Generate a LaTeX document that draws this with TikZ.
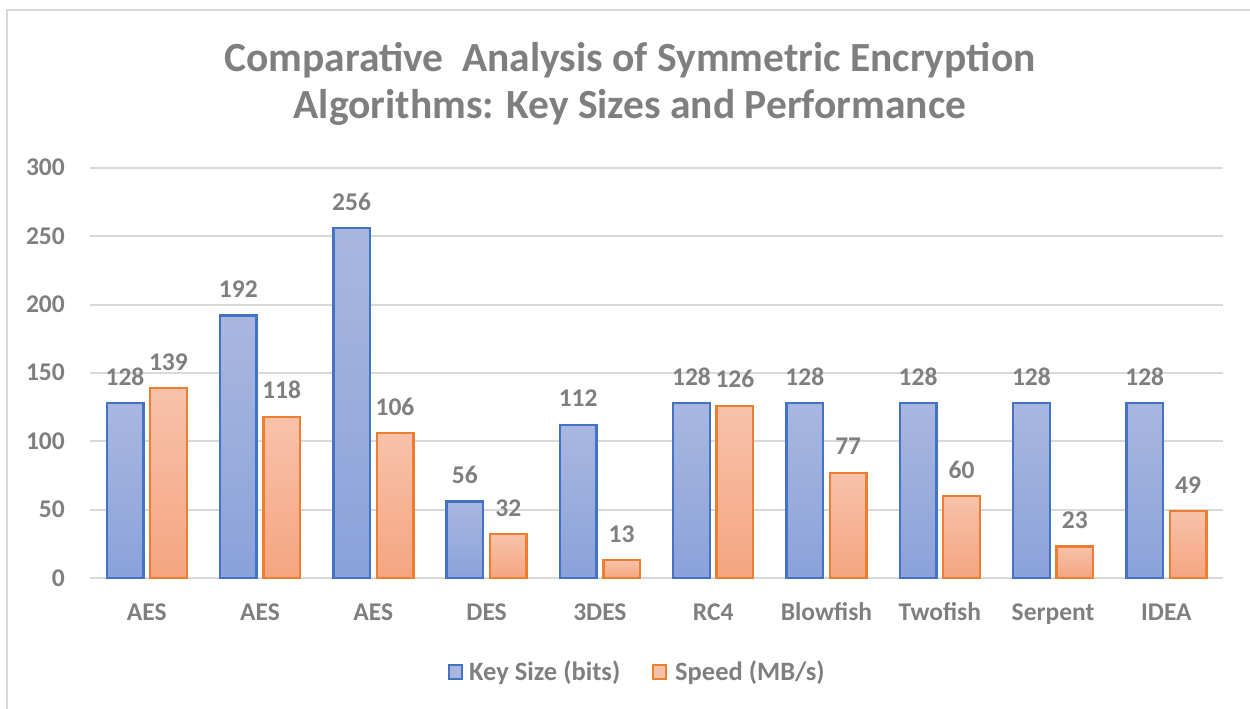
\documentclass[tikz,border=0pt]{standalone}
\usepackage{fontspec}
\setmainfont{Carlito}
\begin{document}
\begin{tikzpicture}[x=1pt,y=-1pt,
  txt/.style={font=\bfseries\fontsize{25.5}{30}\selectfont, text=labgray, inner sep=0pt},
  grid/.style={draw=gridgray, line width=2pt},
  keybar/.style={draw=keyedge, line width=2.4pt, top color=keytop, bottom color=keybot},
  spdbar/.style={draw=spdedge, line width=2.4pt, top color=spdtop, bottom color=spdbot}]
\definecolor{labgray}{HTML}{7F7F7F}
\definecolor{gridgray}{HTML}{D9D9D9}
\definecolor{keyedge}{HTML}{4472C4}
\definecolor{keytop}{HTML}{A9B7E0}
\definecolor{keybot}{HTML}{8AA2DA}
\definecolor{spdedge}{HTML}{ED7D31}
\definecolor{spdtop}{HTML}{F7C2AA}
\definecolor{spdbot}{HTML}{F5A580}
\useasboundingbox (0,0) rectangle (1250,709);
% frame
\coordinate (fb) at (7,712);
\coordinate (ftl) at (7,10);
\coordinate (ftr) at (1252,10);
\draw[gridgray, line width=2.5pt] (fb) -- (ftl) -- (ftr);
% title
\node[txt, font=\bfseries\fontsize{41.5}{48}\selectfont, anchor=base] (t1) at (630,71) {Comparative~ Analysis of Symmetric Encryption};
\node[txt, font=\bfseries\fontsize{41.5}{48}\selectfont, anchor=base] (t2) at (630,118) {Algorithms: Key Sizes and Performance};
% grid and y labels
\foreach \v in {0,50,...,300}{
  \pgfmathsetmacro{\yy}{578-\v*1.3667}
  \coordinate (gl\v) at (90,\yy);
  \coordinate (gr\v) at (1223,\yy);
  \draw[grid] (gl\v) -- (gr\v);
  \node[txt, anchor=base east] (y\v) at (65,\yy+8) {\v};
}
% bars
\foreach \k/\s/\n [count=\i from 0] in {128/139/AES,192/118/AES,256/106/AES,56/32/DES,112/13/3DES,128/126/RC4,128/77/Blowfish,128/60/Twofish,128/23/Serpent,128/49/IDEA}{
  \pgfmathsetmacro{\c}{146.7+113.3*\i}
  \pgfmathsetmacro{\kt}{578-\k*1.3667}
  \pgfmathsetmacro{\st}{578-\s*1.3667}
  \draw[keybar] (\c-40,578) rectangle (\c-3.4,\kt);
  \draw[spdbar] (\c+3.4,578) rectangle (\c+40,\st);
  \node[txt, anchor=base] (kl\i) at (\c-21.7,\kt-18) {\k};
  \node[txt, anchor=base] (sl\i) at (\c+21.7,\st-18) {\s};
  \node[txt, anchor=base] (cat\i) at (\c,620) {\n};
}
% legend
\draw[keyedge, line width=1.8pt, fill=keytop] (449,665) rectangle (462,679);
\node[txt, font=\bfseries\fontsize{26.5}{30}\selectfont, anchor=base west] (lk) at (469,680) {Key Size (bits)};
\draw[spdedge, line width=1.8pt, fill=spdtop] (653,665) rectangle (666,679);
\node[txt, font=\bfseries\fontsize{26.5}{30}\selectfont, anchor=base west] (ls) at (675,680) {Speed (MB/s)};
\end{tikzpicture}
\end{document}
